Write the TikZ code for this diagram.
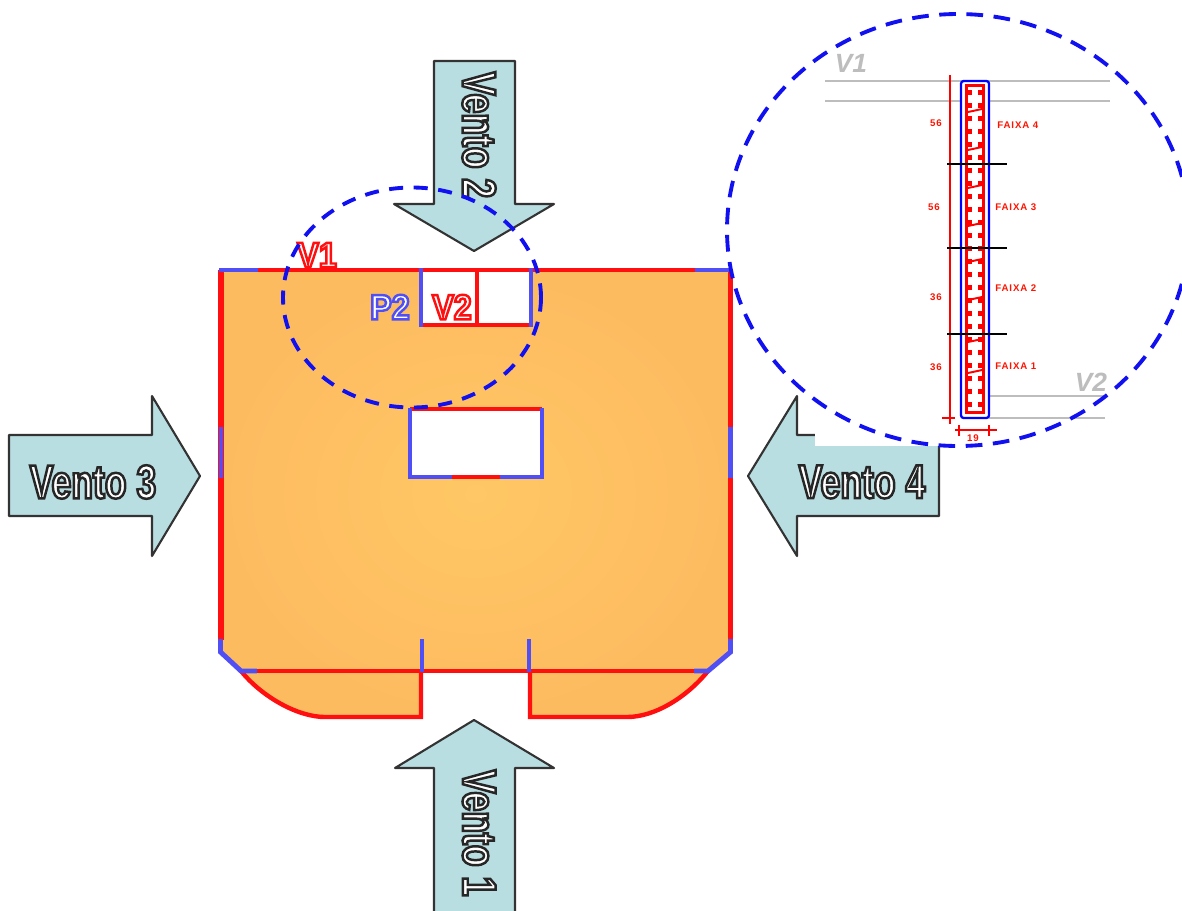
\documentclass[tikz,border=0pt]{standalone}
\usepackage{fontspec}
\setmainfont{Liberation Sans}
\newfontfamily\ventofont[FakeStretch=0.75]{Liberation Sans Bold}
\newfontfamily\wallfont[FakeStretch=0.92]{Liberation Sans Bold}
\newfontfamily\smallfont[LetterSpace=9]{Liberation Sans Bold}
\definecolor{arrowfill}{HTML}{B9DEE2}
\definecolor{orangein}{HTML}{FFC765}
\definecolor{orangeout}{HTML}{FDBB60}
\definecolor{wallred}{HTML}{FF0F0F}
\definecolor{wallblue}{HTML}{4F4FF5}
\definecolor{ringblue}{HTML}{1010F0}
\definecolor{greyline}{HTML}{BDBDBD}
% white letters with a stroked edge, #1 is the stroke colour as r g b
\newcommand{\edgetext}[2]{\textcolor{white}{\special{pdf:code 2 Tr 1.4 w #1 RG}#2\special{pdf:code 0 Tr}}}
\tikzset{
  windarrow/.style = {draw = black!80, fill = arrowfill, line width = 1.2pt, line join = round},
  windlabel/.style = {font = \fontsize{27}{27}\ventofont, inner sep = 0pt},
  walllabel/.style = {font = \fontsize{20}{20}\wallfont, inner sep = 0pt},
  redwall/.style = {draw = wallred, line width = 2.5pt},
  sidewall/.style = {draw = wallred, line width = 3pt},
  bluewall/.style = {draw = wallblue, line width = 2.8pt},
  ring/.style = {draw = ringblue, line width = 2.2pt},
  greyrule/.style = {draw = greyline, line width = 1.1pt},
  dimline/.style = {draw = red, line width = 0.8pt},
  cutline/.style = {draw = black, line width = 1.1pt},
  tinytext/.style = {font = \fontsize{5.5}{5.5}\smallfont, text = red!85!orange, inner sep = 0pt},
  greytext/.style = {font = \fontsize{15}{15}\selectfont\bfseries\itshape, text = greyline, inner sep = 0pt}
}
\begin{document}
\begin{tikzpicture}[x = 0.02cm, y = -0.02cm]
        \useasboundingbox (0,0) rectangle (1182,910);

        % floor plate
        \shade [inner color = orangein, outer color = orangeout] (220,270) -- (731,270) -- (731,652) -- (708,671) .. controls (687,697) and (655,717) .. (627,717) -- (530,717) -- (530,671) -- (421,671) -- (421,717) -- (325,717) .. controls (298,717) and (262,697) .. (241,671) -- (220,652) -- cycle;
        \fill [white] (421,270) rectangle (531,325);
        \fill [white] (410,409) rectangle (542,477);

        % red walls
        \draw [redwall] (220,270) -- (731,270);
        \draw [sidewall] (221,270) -- (221,640);
        \draw [sidewall] (730.5,270) -- (730.5,640);
        \draw [redwall] (243,671) -- (708,671);
        \draw [redwall] (241,671) .. controls (262,697) and (298,717) .. (325,717) -- (421,717) -- (421,671);
        \draw [redwall] (708,671) .. controls (687,697) and (655,717) .. (627,717) -- (530,717) -- (530,671);
        \draw [redwall] (421,325) -- (531,325);
        \draw [redwall] (477,270) -- (477,325);
        \draw [redwall] (410,409) -- (542,409);
        \draw [redwall] (452,477) -- (500,477);

        % blue stretches
        \draw [bluewall] (219,270) -- (258,270);
        \draw [bluewall] (695,270) -- (732,270);
        \draw [bluewall] (221,427) -- (221,478);
        \draw [bluewall] (730.5,427) -- (730.5,478);
        \draw [bluewall] (220.5,639) -- (220.5,652) -- (241,671) -- (257,671);
        \draw [bluewall] (730.5,639) -- (730.5,652) -- (708,671) -- (694,671);
        \draw [bluewall] (422,639) -- (422,672);
        \draw [bluewall] (529,639) -- (529,672);
        \draw [bluewall] (421,268) -- (421,327);
        \draw [bluewall] (531,268) -- (531,327);
        \draw [bluewall] (452,477) -- (410,477) -- (410,408);
        \draw [bluewall] (500,477) -- (542,477) -- (542,408);

        % wind arrows
        \draw [windarrow] (434,61) -- (515,61) -- (515,204) -- (554,204) -- (474,251) -- (394,204) -- (434,204) -- cycle;
        \draw [windarrow] (434,915) -- (434,768) -- (395,768) -- (474,720) -- (554,768) -- (515,768) -- (515,915);
        \draw [windarrow] (9,435) -- (152,435) -- (152,396) -- (200,476) -- (152,556) -- (152,516) -- (9,516) -- cycle;
        \draw [windarrow] (939,516) -- (797,516) -- (797,556) -- (748,476) -- (797,396) -- (797,435) -- (939,435) -- cycle;
        \fill [white] (815,300) rectangle (1182,445.5);

        \node [windlabel, rotate = -90] (vento2) at (479,135) {\edgetext{0.15 0.15 0.15}{Vento 2}};
        \node [windlabel, rotate = -90] (vento1) at (479,833) {\edgetext{0.15 0.15 0.15}{Vento 1}};
        \node [windlabel] (vento3) at (93,482) {\edgetext{0.15 0.15 0.15}{Vento 3}};
        \node [windlabel] (vento4) at (862,482) {\edgetext{0.15 0.15 0.15}{Vento 4}};

        \node [walllabel] (labelv1) at (317,255) {\edgetext{1 0.06 0.06}{V1}};
        \node [walllabel] (labelp2) at (390,307) {\edgetext{0.31 0.31 0.96}{P2}};
        \node [walllabel] (labelv2) at (452,307) {\edgetext{1 0.06 0.06}{V2}};

        % detail of the pier
        \draw [greyrule] (825,81) -- (1110,81);
        \draw [greyrule] (825,101) -- (1110,101);
        \draw [greyrule] (989,396) -- (1105,396);
        \draw [greyrule] (989,418) -- (1105,418);
        \fill [white] (961,81) rectangle (989,418);

        \fill [red] (964.5,84) rectangle (985,414);
        \fill [white] (967.5,87) rectangle (982,411);
        \foreach \y in {92,105,118,131,144,157,170,183,196,209,222,235,248,261,274,287,300,313,326,339,352,365,378,391,404} {
            \fill [red] (967,\y-2.5) rectangle (971.5,\y+2.5);
            \fill [red] (978,\y-2.5) rectangle (983,\y+2.5);
        }
        \foreach \y in {112,150,188,226,262,300,342,373} {
            \draw [red, line width = 1.1pt] (968,\y) -- (982,\y-3);
        }
        \draw [draw = blue, line width = 1.3pt, rounded corners = 1.5pt] (961,81) rectangle (989,418);

        \draw [dimline] (950,75) -- (950,424);
        \draw [dimline] (942,418) -- (955,418);
        \draw [dimline] (955,430) -- (997,430);
        \draw [dimline] (959,425) -- (959,436);
        \draw [dimline] (989,425) -- (989,436);
        \draw [cutline] (947,164) -- (1007,164);
        \draw [cutline] (947,248) -- (1007,248);
        \draw [cutline] (947,334) -- (1007,334);

        \node [tinytext] (size4) at (936,123) {56};
        \node [tinytext] (size3) at (934,207) {56};
        \node [tinytext] (size2) at (936,297) {36};
        \node [tinytext] (size1) at (936,367) {36};
        \node [tinytext] (width) at (973,438) {19};
        \node [tinytext, anchor = west] (faixa4) at (997,125) {FAIXA 4};
        \node [tinytext, anchor = west] (faixa3) at (995,207) {FAIXA 3};
        \node [tinytext, anchor = west] (faixa2) at (995,288) {FAIXA 2};
        \node [tinytext, anchor = west] (faixa1) at (995,366) {FAIXA 1};
        \node [greytext] (greyv1) at (851,63) {V1};
        \node [greytext] (greyv2) at (1091,382) {V2};

        % rings
        \draw [ring, dash pattern = on 8pt off 6pt] (412,297.5) ellipse (129 and 110);
        \draw [ring, dash pattern = on 9.5pt off 6pt] (958,230) ellipse (231 and 216);
    \end{tikzpicture}
\end{document}
